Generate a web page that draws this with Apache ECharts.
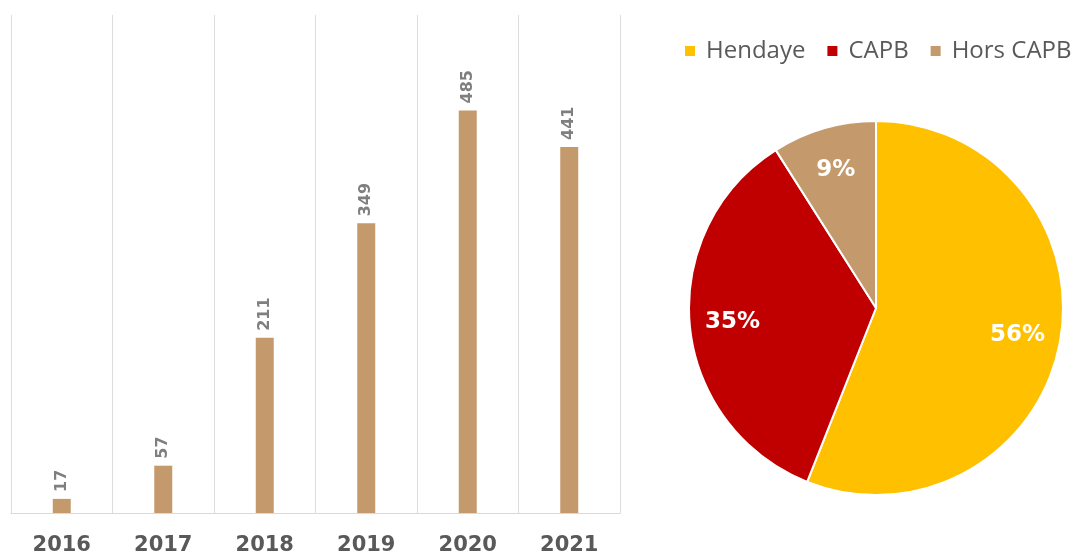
<!DOCTYPE html>
<html>
<head>
<meta charset="utf-8">
<script src="https://cdn.jsdelivr.net/npm/echarts@6/dist/echarts.min.js"></script>
<style>
  html, body { margin: 0; padding: 0; background: #fff; }
  #chart { width: 1079px; height: 558px; }
</style>
</head>
<body>
<div id="chart"></div>
<script>
const years = ['2016', '2017', '2018', '2019', '2020', '2021']
const counts = [17, 57, 211, 349, 485, 441]
const origins = ['Hendaye', 'CAPB', 'Hors CAPB']
const shares = [56, 35, 9]
const originColors = ['#FFC000', '#C00000', '#C49A6C']

const chart = echarts.init(document.getElementById('chart'))
const pieData = origins.map((name, i) => ({ name, value: shares[i] }))

chart.setOption({
  backgroundColor: '#fff',
  animation: false,
  color: originColors,
  legend: {
    data: origins,
    left: 683,
    top: 39,
    padding: 0,
    width: 396,
    itemWidth: 12,
    itemHeight: 12,
    itemGap: 20,
    icon: 'rect',
    textStyle: {
      color: '#595959',
      fontSize: 24,
      fontFamily: 'Open Sans',
      padding: [0, 0, 0, 5],
    },
  },
  grid: { left: 11, right: 459, top: 15, bottom: 45 },
  xAxis: {
    type: 'category',
    data: years,
    axisTick: { show: false },
    axisLine: { lineStyle: { color: '#d9d9d9' } },
    axisLabel: {
      color: '#595959',
      fontSize: 21,
      fontWeight: 'bold',
      fontFamily: 'DejaVu Sans',
      margin: 22,
    },
    splitLine: { show: true, interval: 0, lineStyle: { color: '#dcdcdc' } },
  },
  yAxis: {
    type: 'value',
    min: 0,
    max: 600,
    show: false,
  },
  series: [
    {
      type: 'bar',
      data: counts,
      barWidth: 18,
      itemStyle: { color: '#C49A6C' },
      label: {
        show: true,
        position: 'top',
        rotate: 90,
        align: 'left',
        verticalAlign: 'middle',
        distance: 7,
        color: '#7f7f7f',
        fontSize: 16,
        fontWeight: 'bold',
        fontFamily: 'DejaVu Sans',
      },
    },
    {
      type: 'pie',
      center: [876, 308],
      radius: 187,
      startAngle: 90,
      clockwise: true,
      data: pieData,
      label: { show: false },
      labelLine: { show: false },
      itemStyle: { borderColor: '#fff', borderWidth: 2 },
      emphasis: { disabled: true },
    },
    {
      // label ring, so the percentages sit a bit further out than the default
      type: 'pie',
      center: [876, 308],
      radius: [95, 187],
      startAngle: 90,
      clockwise: true,
      silent: true,
      legendHoverLink: false,
      data: pieData,
      itemStyle: { color: 'transparent' },
      label: {
        show: true,
        position: 'inside',
        formatter: '{c}%',
        color: '#fff',
        fontSize: 23,
        fontWeight: 'bold',
        fontFamily: 'DejaVu Sans',
      },
      labelLine: { show: false },
    },
  ],
})
</script>
</body>
</html>
